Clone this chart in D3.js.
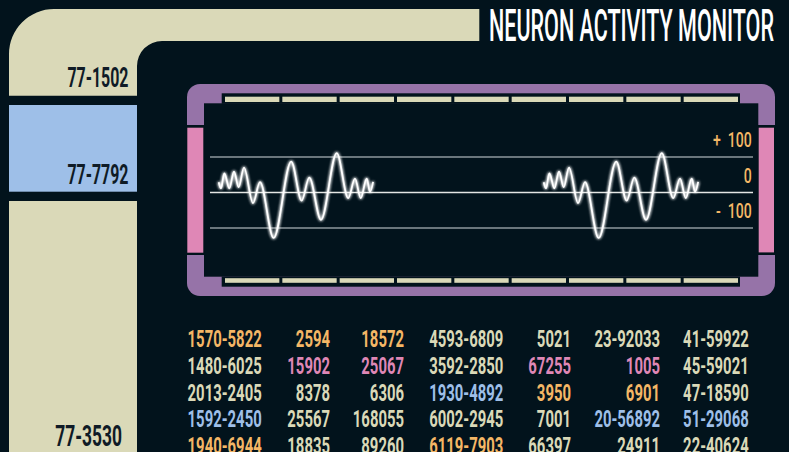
<!DOCTYPE html>
<html><head><meta charset="utf-8">
<script src="https://cdn.jsdelivr.net/npm/d3@7/dist/d3.min.js"></script>
<style>
html,body{margin:0;padding:0;background:#02131c;overflow:hidden;}
svg{display:block;}
text{font-family:Roboto,"Open Sans",sans-serif;}
</style></head><body>
<svg id="c" width="789" height="452"></svg>
<script>
// ---------- data ----------
const chartTitle = "NEURON ACTIVITY MONITOR";
const sideLabels = ["77-1502", "77-7792", "77-3530"];
const tickValues = [100, 0, -100];
const tickLabels = ["+ 100", "0", "- 100"];
const burstStarts = [8, 307.3];
const burstOffsets = [0, 2.1, 5.2, 9.8, 14.1, 18.4, 23.3, 31.6, 38, 50.6, 66.8, 76.4, 83.4, 94.2, 108.7, 119.3, 125.5, 130.8, 136.3, 139.3, 142.2];
const burstValues = [29, 12, 54, 12, 59, 15, 70, -30, 29, -128, 87, -23, 42, -77, 111, -16, 39, -16, 39, 2, 30];
const tableRows = [
  ["1570-5822", "2594", "18572", "4593-6809", "5021", "23-92033", "41-59922"],
  ["1480-6025", "15902", "25067", "3592-2850", "67255", "1005", "45-59021"],
  ["2013-2405", "8378", "6306", "1930-4892", "3950", "6901", "47-18590"],
  ["1592-2450", "25567", "168055", "6002-2945", "7001", "20-56892", "51-29068"],
  ["1940-6944", "18835", "89260", "6119-7903", "66397", "24911", "22-40624"]
];
const tableTones = [
  ["amber", "amber", "amber", "sand", "sand", "sand", "sand"],
  ["sand", "pink", "pink", "sand", "pink", "pink", "sand"],
  ["sand", "sand", "sand", "blue", "amber", "amber", "sand"],
  ["blue", "sand", "sand", "sand", "sand", "blue", "blue"],
  ["amber", "sand", "sand", "amber", "sand", "sand", "sand"]
];

// ---------- style ----------
const C = {bg:"#02131c", sand:"#dad9b8", blue:"#9ebfe8", purple:"#9673a8",
           pink:"#df87b6", amber:"#f4b766", dark:"#0f1b26", grid:"#8e999c", zero:"#e4e6e4"};
const SX = 0.62;

const svg = d3.select("#c");
svg.append("rect").attr("width",789).attr("height",452).attr("fill",C.bg);

const defs = svg.append("defs");
const f = defs.append("filter").attr("id","glow").attr("x","-10%").attr("y","-40%").attr("width","120%").attr("height","180%");
f.append("feGaussianBlur").attr("in","SourceGraphic").attr("stdDeviation",1.6).attr("result","b");
const m = f.append("feMerge");
m.append("feMergeNode").attr("in","b");
m.append("feMergeNode").attr("in","b");
m.append("feMergeNode").attr("in","SourceGraphic");

function ctext(g, str, x, y, size, weight, fill, anchor="end", sx=SX){
  return g.append("text")
    .attr("transform",`translate(${x},${y}) scale(${sx},1)`)
    .attr("text-anchor",anchor).attr("font-size",size)
    .attr("font-weight",weight).attr("fill",fill).text(str);
}

// ---------- left LCARS column ----------
const side = svg.append("g");
side.append("path").attr("fill",C.sand)
  .attr("d","M9,95.7 V54 A45,45 0 0 1 54,9 H479.3 V41 H162 A25,25 0 0 0 137,66 V95.7 Z");
side.append("rect").attr("x",9).attr("y",105).attr("width",128).attr("height",86.7).attr("fill",C.blue);
side.append("rect").attr("x",9).attr("y",201).attr("width",128).attr("height",260).attr("fill",C.sand);
ctext(side, sideLabels[0], 128.5, 86.7, 27, 700, C.dark, "end", 0.59);
ctext(side, sideLabels[1], 128.5, 184, 27, 700, C.dark, "end", 0.59);
ctext(side, sideLabels[2], 122, 445.7, 29.5, 700, C.dark, "end", 0.59);

// title
svg.append("text").attr("x",489).attr("y",40.7)
  .attr("font-size",44).attr("font-weight",500).attr("fill","#ffffff")
  .attr("textLength",285).attr("lengthAdjust","spacingAndGlyphs")
  .text(chartTitle);

// ---------- chart frame ----------
const fr = svg.append("g");
fr.append("rect").attr("x",187).attr("y",84).attr("width",588).attr("height",212).attr("rx",13).attr("fill",C.purple);
fr.append("rect").attr("x",204).attr("y",103.3).attr("width",554.3).attr("height",173.4).attr("fill",C.bg);
fr.append("rect").attr("x",221.7).attr("y",93.3).attr("width",518.3).attr("height",10.5).attr("fill",C.bg);
fr.append("rect").attr("x",221.7).attr("y",276.5).attr("width",518.3).attr("height",10.2).attr("fill",C.bg);
const nSeg = 9, segStart = 225, segEnd = 738, segGap = 3;
const segW = (segEnd - segStart - segGap*(nSeg-1)) / nSeg;
d3.range(nSeg).forEach(i=>{
  const sx0 = segStart + i*(segW+segGap);
  fr.append("rect").attr("x",sx0).attr("y",96.7).attr("width",segW).attr("height",5.3).attr("fill",C.sand);
  fr.append("rect").attr("x",sx0).attr("y",278.2).attr("width",segW).attr("height",4.6).attr("fill",C.sand);
});
fr.append("rect").attr("x",186).attr("y",125).attr("width",18.5).attr("height",130).attr("fill",C.bg);
fr.append("rect").attr("x",187.3).attr("y",127.7).attr("width",16).attr("height",125).attr("fill",C.pink);
fr.append("rect").attr("x",758).attr("y",125).attr("width",18).attr("height",130).attr("fill",C.bg);
fr.append("rect").attr("x",758.7).attr("y",127.7).attr("width",15.3).attr("height",124.7).attr("fill",C.pink);

// ---------- scales & plot ----------
const x = d3.scaleLinear().domain([0,500]).range([210,753]);
const y = d3.scaleLinear().domain([-100,100]).range([228,157]);

const plot = svg.append("g");
plot.selectAll("line.grid").data(tickValues).join("line")
  .attr("class","grid")
  .attr("x1",x(0)).attr("x2",x(500))
  .attr("y1",d=>y(d)).attr("y2",d=>y(d))
  .attr("stroke",d=>d===0?C.zero:C.grid).attr("stroke-width",1.6);

tickValues.forEach((v,i)=>{
  ctext(plot, tickLabels[i], x(500)-1.3, y(v)-10, 19.5, 500, C.amber, "end", 0.72)
    .attr("word-spacing", 5).style("white-space","pre");
});

const line = d3.line().x(d=>x(d.t)).y(d=>y(d.v)).curve(d3.curveMonotoneX);
burstStarts.forEach(s=>{
  const pts = burstOffsets.map((o,i)=>({t:s+o, v:burstValues[i]}));
  plot.append("path").datum(pts).attr("d",line)
    .attr("fill","none").attr("stroke","#ffffff").attr("stroke-width",1.8)
    .attr("stroke-linejoin","round").attr("filter","url(#glow)");
});

// ---------- table ----------
const colRight = [261.7, 330, 404, 503.3, 571, 660, 748.7];
const rowY = d3.scaleLinear().domain([0,1]).range([347.3, 374]);
const tbl = svg.append("g");
tableRows.forEach((row,r)=>{
  row.forEach((cell,c)=>{
    ctext(tbl, cell, colRight[c], rowY(r), 24, 700, C[tableTones[r][c]]);
  });
});
</script>
</body></html>
